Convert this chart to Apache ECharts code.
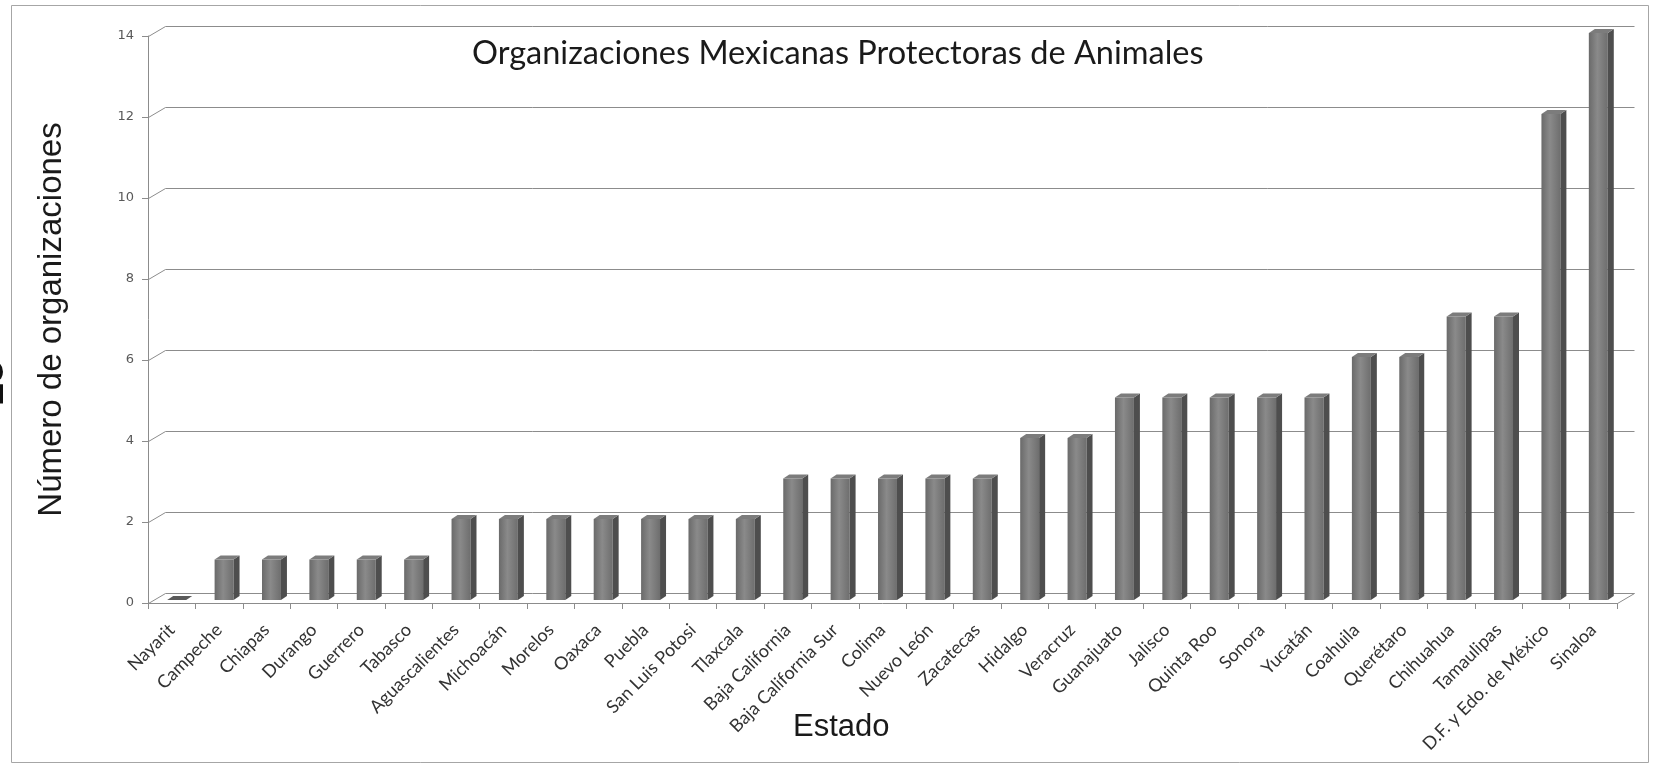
<!DOCTYPE html>
<html>
<head>
<meta charset="utf-8">
<title>Organizaciones Mexicanas Protectoras de Animales</title>
<script src="https://cdn.jsdelivr.net/npm/echarts@6/dist/echarts.min.js"></script>
<style>
  html, body { margin: 0; padding: 0; background: #fff; }
  #chart { width: 1658px; height: 768px; }
</style>
</head>
<body>
<div id="chart"></div>
<script>
const estados = [
  'Nayarit', 'Campeche', 'Chiapas', 'Durango', 'Guerrero', 'Tabasco',
  'Aguascalientes', 'Michoacán', 'Morelos', 'Oaxaca', 'Puebla',
  'San Luis Potosi', 'Tlaxcala', 'Baja California', 'Baja California Sur',
  'Colima', 'Nuevo León', 'Zacatecas', 'Hidalgo', 'Veracruz', 'Guanajuato',
  'Jalisco', 'Quinta Roo', 'Sonora', 'Yucatán', 'Coahuila', 'Querétaro',
  'Chihuahua', 'Tamaulipas', 'D.F. y Edo. de México', 'Sinaloa'
]
const organizaciones = [
  0, 1, 1, 1, 1, 1,
  2, 2, 2, 2, 2,
  2, 2, 3, 3,
  3, 3, 3, 4, 4, 5,
  5, 5, 5, 5, 6, 6,
  7, 7, 12, 14
]
const yTicks = [0, 2, 4, 6, 8, 10, 12, 14]

const chart = echarts.init(document.getElementById('chart'), null, {
  // renderer: 'svg',
  devicePixelRatio: 1,
})

// fake 3d depth, in px: back wall and bars
const wallDx = 17
const wallDy = 10
const barDx = 6
const barDy = 4
const lineColor = '#8c8c8c'

const frontFill = new echarts.graphic.LinearGradient(0, 0, 1, 0, [
  { offset: 0, color: '#6a6a6a' },
  { offset: 0.45, color: '#8a8a8a' },
  { offset: 1, color: '#6e6e6e' },
])

const renderGrid = (params, api) => {
  const v = api.value(1)
  const p = api.coord([0, v])
  const band = api.size([1, 0])[0]
  const left = Math.round(p[0] - band / 2) + 0.5
  const right = left + band * estados.length
  const y = Math.round(p[1]) + 0.5
  const children = [{
    type: 'polyline',
    shape: { points: [[left, y], [left + wallDx, y - wallDy], [right + wallDx, y - wallDy]] },
    style: { stroke: lineColor, lineWidth: 1, fill: null },
  }]
  if (v === 0) {
    children.push({
      type: 'line',
      shape: { x1: right, y1: y, x2: right + wallDx, y2: y - wallDy },
      style: { stroke: lineColor, lineWidth: 1 },
    })
  }
  return { type: 'group', children }
}

const renderBar = (params, api) => {
  const idx = api.value(0)
  const v = api.value(1)
  const base = api.coord([idx, 0])
  const top = api.coord([idx, v])
  const w = api.size([1, 0])[0] * 0.4
  const x0 = base[0] + 5 - w / 2
  const x1 = x0 + w
  const y0 = base[1] - 3
  const y1 = top[1] - 3
  const children = []
  if (v > 0) {
    children.push({
      type: 'rect',
      shape: { x: x0, y: y1, width: w, height: y0 - y1 },
      style: { fill: frontFill },
    })
    children.push({
      type: 'polygon',
      shape: { points: [[x1, y1], [x1 + barDx, y1 - barDy], [x1 + barDx, y0 - barDy], [x1, y0]] },
      style: { fill: '#4e4e4e' },
    })
  }
  children.push({
    type: 'polygon',
    shape: { points: [[x0, y1], [x0 + barDx, y1 - barDy], [x1 + barDx, y1 - barDy], [x1, y1]] },
    style: { fill: v > 0 ? '#7c7c7c' : '#5a5a5a' },
  })
  return { type: 'group', children }
}

const option = {
  animation: false,
  title: {
    text: 'Organizaciones Mexicanas Protectoras de Animales',
    left: 467,
    top: 32,
    textStyle: { fontFamily: 'Lato', fontSize: 32.5, fontWeight: 'normal', color: '#1a1a1a' },
  },
  grid: { left: 148, right: 41, top: 36, bottom: 165, containLabel: false },
  xAxis: {
    type: 'category',
    data: estados,
    axisLine: { lineStyle: { color: lineColor } },
    axisTick: { show: true, length: 6, lineStyle: { color: lineColor } },
    axisLabel: {
      interval: 0,
      rotate: 45,
      margin: 24,
      fontFamily: 'Lato',
      fontSize: 18,
      color: '#333333',
    },
  },
  yAxis: {
    type: 'value',
    min: 0,
    max: 14,
    interval: 2,
    name: 'Número de organizaciones',
    nameLocation: 'middle',
    nameGap: 80,
    nameRotate: 90,
    nameTextStyle: { fontFamily: 'Liberation Sans', fontSize: 33, color: '#1a1a1a' },
    axisLine: { show: true, lineStyle: { color: lineColor } },
    axisTick: { show: true, length: 6, lineStyle: { color: lineColor } },
    splitLine: { show: false },
    axisLabel: { margin: 14, fontFamily: 'DejaVu Sans', fontSize: 13, color: '#595959' },
  },
  graphic: [
    {
      type: 'rect',
      shape: { x: 11.5, y: 5.5, width: 1637, height: 757 },
      style: { fill: null, stroke: '#a6a6a6', lineWidth: 1 },
      silent: true,
    },
    {
      type: 'text',
      left: 793,
      top: 712,
      style: { text: 'Estado', font: '31px "Liberation Sans"', fill: '#1a1a1a' },
    },
    {
      type: 'text',
      x: -28,
      y: 405,
      rotation: Math.PI / 2,
      style: { text: '25', font: 'bold 40px "Liberation Sans"', fill: '#111' },
    },
  ],
  series: [
    {
      type: 'custom',
      silent: true,
      z: 1,
      clip: false,
      renderItem: renderGrid,
      encode: { x: 0, y: 1 },
      data: yTicks.map(v => [0, v]),
    },
    {
      type: 'custom',
      z: 2,
      clip: false,
      renderItem: renderBar,
      encode: { x: 0, y: 1 },
      data: organizaciones.map((v, i) => [i, v]),
    },
  ],
}

chart.setOption(option)
window.addEventListener('resize', () => {
  chart.resize()
})
</script>
</body>
</html>
